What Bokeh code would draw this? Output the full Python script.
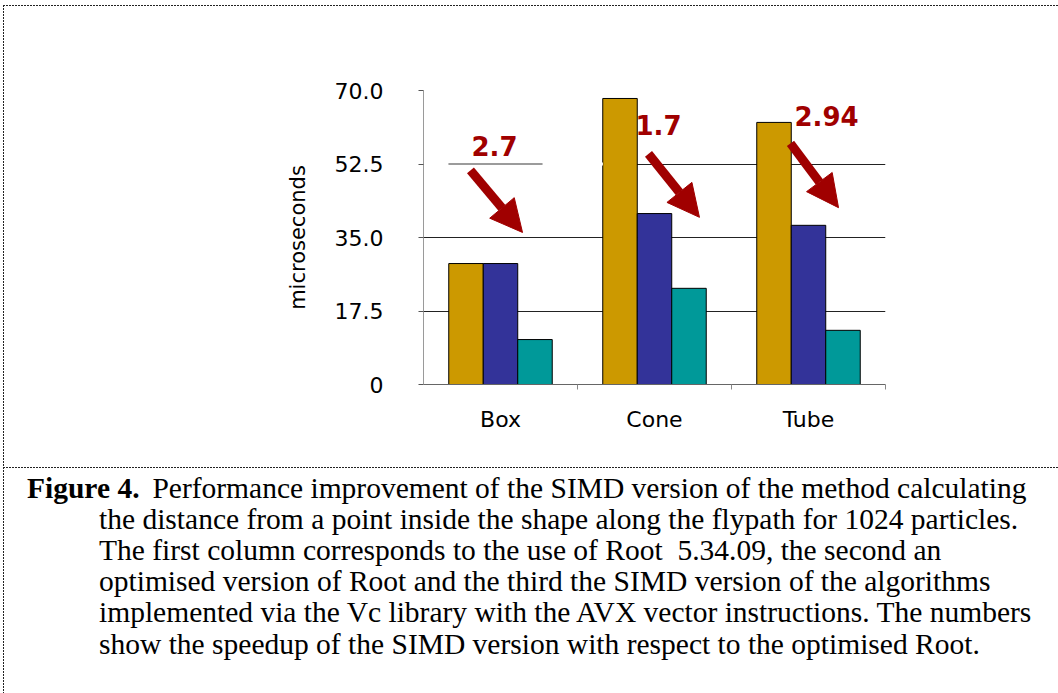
from bokeh.plotting import figure
from bokeh.layouts import column
from bokeh.models import (Range1d, FixedTicker, LinearAxis, Grid, Arrow, NormalHead,
                          ColumnDataSource, Div)
from bokeh.core.properties import value
from bokeh.embed import file_html
from bokeh.resources import INLINE
from html import escape

# ---------------- data ----------------
shapes = ["Box", "Cone", "Tube"]
root_5_34_09 = [28.8, 68.1, 62.4]      # first column: Root 5.34.09
root_optimised = [28.8, 40.7, 37.9]    # second column: optimised Root
simd_vc = [10.7, 22.9, 12.9]           # third column: SIMD (Vc, AVX)
speedups = ["2.7", "1.7", "2.94"]
y_ticks = [0, 17.5, 35, 52.5, 70]
y_tick_labels = ["0", "17.5", "35.0", "52.5", "70.0"]
y_label = "microseconds"

caption_bold = "Figure 4."
caption_lines = [
    " Performance improvement of the SIMD version of the method calculating",
    "the distance from a point inside the shape along the flypath for 1024 particles.",
    "The first column corresponds to the use of Root  5.34.09, the second an",
    "optimised version of Root and the third the SIMD version of the algorithms",
    "implemented via the Vc library with the AVX vector instructions. The numbers",
    "show the speedup of the SIMD version with respect to the optimised Root.",
]

# annotation placement (data units)
label_x = [0.461, 1.526, 2.617]
label_y = [56.7, 61.7, 64.0]
arrow_start = [(0.305, 51.0), (1.461, 54.9), (2.383, 57.4)]
arrow_end = [(0.643, 36.2), (1.792, 39.8), (2.695, 42.1)]

GOLD, BLUE, TEAL, RED = "#CC9900", "#333399", "#009999", "#A00000"
W = 0.224
n = len(shapes)
centers = [i + 0.5 for i in range(n)]

TOTAL_W, TOTAL_H = 1058, 693
CHART_H = 467
CAP_H = TOTAL_H - CHART_H

# --- chart ---
p = figure(width=TOTAL_W, height=CHART_H, x_range=Range1d(0, n),
           y_range=Range1d(0, 70), output_backend="svg", toolbar_location=None,
           x_axis_location=None, min_border_left=423, min_border_right=173,
           min_border_top=90, min_border_bottom=83, outline_line_color=None,
           background_fill_color=None, border_fill_color=None)
p.xgrid.visible = False

ya = p.yaxis[0]
ya.ticker = FixedTicker(ticks=y_ticks)
ya.major_label_overrides = dict(zip(y_ticks, y_tick_labels))
ya.axis_line_color = "#9a9a9a"
ya.major_tick_line_color = "#555555"
ya.major_tick_out = 5
ya.major_tick_in = 0
ya.minor_tick_line_color = None
ya.major_label_text_font = "DejaVu Sans"
ya.major_label_text_font_size = "22px"
ya.major_label_text_color = "black"
ya.major_label_standoff = 35
ya.axis_label = y_label
ya.axis_label_text_font = "DejaVu Sans"
ya.axis_label_text_font_size = "21px"
ya.axis_label_text_font_style = "normal"
ya.axis_label_text_color = "black"
ya.axis_label_standoff = 22

p.ygrid.ticker = FixedTicker(ticks=y_ticks[:-1])
p.ygrid.grid_line_color = "#222222"
p.add_layout(Grid(dimension=1, ticker=FixedTicker(ticks=[y_ticks[-1]]),
                  grid_line_color="#999999"))

bounds = list(range(1, n + 1))
tick_axis = LinearAxis(ticker=FixedTicker(ticks=bounds),
                       major_label_overrides={b: "" for b in bounds},
                       major_label_text_font_size="1px", major_label_standoff=0,
                       major_tick_out=5, major_tick_in=0, minor_tick_line_color=None,
                       axis_line_color="#666666", major_tick_line_color="#888888")
p.add_layout(tick_axis, "below")
cat_axis = LinearAxis(ticker=FixedTicker(ticks=centers),
                      major_label_overrides=dict(zip(centers, shapes)),
                      axis_line_color=None, major_tick_line_color=None,
                      minor_tick_line_color=None,
                      major_label_text_font="DejaVu Sans",
                      major_label_text_font_size="22px",
                      major_label_text_color="black", major_label_standoff=11)
p.add_layout(cat_axis, "below")

src = ColumnDataSource(dict(
    xa=[c - W for c in centers], xb=centers, xc=[c + W for c in centers],
    a=root_5_34_09, b=root_optimised, c=simd_vc))
p.vbar(x="xa", top="a", width=W, source=src, fill_color=GOLD, line_color="black", line_width=1)
p.vbar(x="xb", top="b", width=W, source=src, fill_color=BLUE, line_color="black", line_width=1)
p.vbar(x="xc", top="c", width=W, source=src, fill_color=TEAL, line_color="black", line_width=1)

# gridline interrupted behind the first label
p.segment(x0=[0.0], y0=[52.5], x1=[1.165], y1=[52.5], line_color="white", line_width=3)
p.segment(x0=[0.162], y0=[52.5], x1=[0.773], y1=[52.5], line_color="#7a7a7a", line_width=1.5)

p.text(x=label_x, y=label_y, text=speedups, text_align="center", text_baseline="middle",
       text_font=value("DejaVu Sans"), text_font_style="bold", text_font_size="26px",
       text_color=RED)
for (xs, ys), (xe, ye) in zip(arrow_start, arrow_end):
    p.add_layout(Arrow(x_start=xs, y_start=ys, x_end=xe, y_end=ye,
                       line_color=RED, line_width=9,
                       end=NormalHead(size=32, fill_color=RED, line_color=RED, line_width=1)))

# --- caption (HTML text) ---
line_h = 31.2
top0 = 5.5
parts = [f'<div style="position:absolute; left:27px; top:{top0}px; font-weight:bold;">'
         f'{escape(caption_bold)}</div>']
for i, line in enumerate(caption_lines):
    left = 145 if i == 0 else 99
    parts.append(f'<div style="position:absolute; left:{left}px; top:{top0 + i * line_h:.1f}px;">'
                 f'{escape(line)}</div>')
caption_html = ('<div style="position:relative; width:%dpx; height:%dpx; '
                "font-family:'Liberation Serif', 'Times New Roman', serif; font-size:29.5px; "
                'line-height:31px; color:black; white-space:pre;">%s</div>'
                % (TOTAL_W, CAP_H, "".join(parts)))
cap = Div(text=caption_html, width=TOTAL_W, height=CAP_H, margin=0)

dash_h = ("repeating-linear-gradient(to right, #222 0px, #222 2px, "
          "transparent 2px, transparent 3px)")
dash_v = ("repeating-linear-gradient(to bottom, #222 0px, #222 2px, "
          "transparent 2px, transparent 3px)")
frame_css = {
    "background-color": "white",
    "background-image": f"{dash_h}, {dash_v}, {dash_h}",
    "background-size": f"{TOTAL_W - 3}px 1px, 1px {TOTAL_H - 5}px, {TOTAL_W - 3}px 1px",
    "background-position": f"3px 5px, 3px 5px, 3px {CHART_H}px",
    "background-repeat": "no-repeat, no-repeat, no-repeat",
}
layout = column(p, cap, styles=frame_css, margin=0)
open("out.html", "w").write(file_html(layout, INLINE))
